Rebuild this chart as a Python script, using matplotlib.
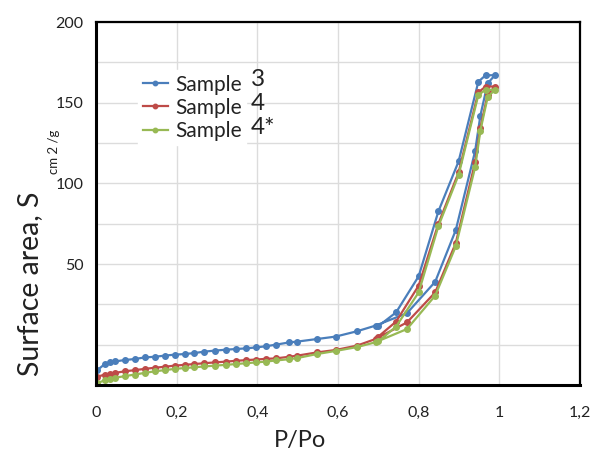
import numpy as np
import matplotlib.pyplot as plt

plt.rcParams['font.family'] = ['Lato', 'DejaVu Sans']

# presiones relativas (rama de adsorcion y de desorcion)
x_ads = [0.002, 0.022, 0.035, 0.047, 0.072, 0.096, 0.121, 0.146, 0.170, 0.195,
         0.220, 0.244, 0.269, 0.294, 0.323, 0.347, 0.372, 0.397, 0.421, 0.446,
         0.479, 0.499, 0.548, 0.594, 0.647, 0.693, 0.771, 0.841, 0.892, 0.940,
         0.953, 0.971, 0.989]
x_des = [0.966, 0.948, 0.899, 0.849, 0.800, 0.744, 0.700]

# Sample 3
s3_ads = [-16, -12, -11, -10.4, -9.5, -8.9, -7.9, -7.5, -6.8, -6.2,
          -5.8, -5.2, -4.3, -3.7, -3.1, -2.7, -2.3, -1.7, -1.0, 0,
          1.4, 1.9, 3.5, 5.0, 8.3, 11.8, 19.5, 39, 71, 120,
          142, 162, 167]
s3_des = [167, 163, 113.6, 82.7, 42.4, 20, 11.5]

# Sample 4
s4_ads = [-20, -18.5, -18, -17.5, -16.5, -15.8, -15, -14.3, -13.7, -13,
          -12.5, -12, -11.5, -11, -10.5, -10, -9.6, -9.2, -8.8, -8.5,
          -7.5, -6.8, -4.8, -3.3, -0.6, 3.5, 13.8, 32.4, 63, 113,
          134.5, 155, 160]
s4_des = [160, 156.4, 106.8, 75, 36.6, 14.3, 5]

# Sample 4*
s4b_ads = [-24, -22, -21, -20.5, -19.5, -18.5, -17.5, -16.5, -15.8, -15,
           -14.5, -14, -13.5, -13, -12.5, -12, -11.5, -11, -10.5, -9.8,
           -9.0, -8.3, -5.8, -3.9, -1.5, 1.5, 9.7, 30.4, 61, 110,
           132.7, 153.4, 158]
s4b_des = [158, 154.8, 105.2, 73.5, 32.4, 11.2, 2]

x = np.array(x_ads + x_des)

fig = plt.figure(figsize=(5.92, 4.59), dpi=100)
ax = fig.add_axes([96/592, 1-385/459, 484/592, 363/459])

series = [(s3_ads + s3_des, '#4a7ebb', 'Sample'),
          (s4_ads + s4_des, '#be4b48', 'Sample'),
          (s4b_ads + s4b_des, '#98b954', 'Sample')]
for ys, c, lab in series:
    ax.plot(x, ys, color=c, lw=1.6, marker='o', ms=4, label=lab)

ax.set_xlim(0, 1.2)
ax.set_ylim(-25, 200)
ax.set_xticks(np.arange(0, 1.21, 0.2))
ax.set_xticklabels(['0', '0,2', '0,4', '0,6', '0,8', '1', '1,2'])
yt = np.arange(-25, 201, 25)
ax.set_yticks(yt)
ax.set_yticklabels([str(v) if v in (50, 100, 150, 200) else '' for v in yt])
ax.tick_params(length=0, labelsize=11.5, colors='#222222')
ax.tick_params(axis='x', pad=15)
ax.tick_params(axis='y', pad=9)
ax.grid(True, color='#dcdcdc', lw=1)
ax.set_axisbelow(True)
for s in ax.spines.values():
    s.set_linewidth(1.6)
    s.set_color('black')
ax.spines['left'].set_linewidth(2.2)
ax.spines['bottom'].set_linewidth(2.2)

leg = ax.legend(loc='upper left', bbox_to_anchor=(128/592, 1-60/459),
                bbox_transform=fig.transFigure, frameon=True, fancybox=False,
                edgecolor='white', facecolor='white', framealpha=1,
                fontsize=15, handlelength=1.2, handletextpad=0.35,
                labelspacing=0.15, borderpad=0.2, markerscale=0.8)
for t in leg.get_texts():
    t.set_color('#222222')

for yy, num in [(79, '3'), (104, '4'), (128, '4*')]:
    fig.text(251/592, 1-yy/459, num, fontsize=17.5, va='center', ha='left', color='#222222')

fig.text(30/592, 1-284/459, 'Surface area, S', rotation=90, fontsize=20.5,
         ha='center', va='center', color='#222222')
fig.text(54/592, 1-152/459, 'cm 2 /g', rotation=90, fontsize=9.5,
         ha='center', va='center', color='#222222')
fig.text(300/592, 1-440/459, 'P/Po', fontsize=17, ha='center', va='center', color='#222222')

fig.savefig('out.png', dpi=100)
